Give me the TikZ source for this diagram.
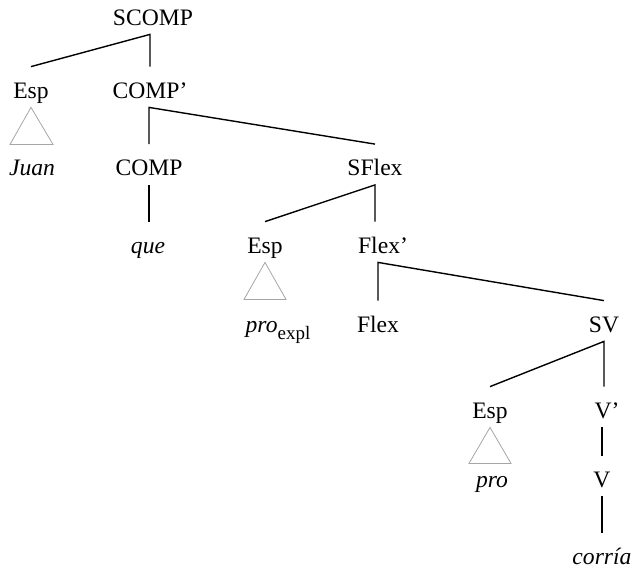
\documentclass[tikz,border=0pt]{standalone}
\usepackage{fontspec}
\setmainfont{Liberation Serif}
\usetikzlibrary{calc}

\begin{document}
\begin{tikzpicture}[x=0.5pt, y=-0.5pt, font=\fontsize{11.8}{14}\selectfont]
	\tikzstyle{cat} = [anchor=base, text height=13pt, text depth=2pt, inner xsep=1pt, inner ysep=2.5pt]
	\tikzstyle{lex} = [cat, font=\fontsize{11.8}{14}\selectfont\itshape]
	\tikzstyle{branch} = [line width=0.7pt]
	\tikzstyle{tri} = [draw=gray!70, line width=0.4pt]
	\useasboundingbox (0,0) rectangle (634,569);
	% categories
	\node (scomp)[cat] at (153,25) {SCOMP};
	\node (espa)[cat] at (31,98) {Esp};
	\node (compbar)[cat] at (150,98) {COMP’};
	\node (juan)[lex] at (32,175.5) {Juan};
	\node (comp)[cat] at (149,175.5) {COMP};
	\node (sflex)[cat] at (375,175.5) {SFlex};
	\node (que)[lex] at (148,253) {que};
	\node (espb)[cat] at (265,253) {Esp};
	\node (flexbar)[cat] at (383,253) {Flex’};
	\node (proexpl)[lex] at (278,332) {pro\raisebox{-3.5pt}{\upshape\fontsize{9.5}{10}\selectfont expl}};
	\node (flex)[cat] at (378,332) {Flex};
	\node (sv)[cat] at (604,332) {SV};
	\node (espc)[cat] at (490,418) {Esp};
	\node (vbar)[cat] at (607,418) {V’};
	\node (pro)[lex] at (492,487) {pro};
	\node (v)[cat] at (602,487) {V};
	\node (corria)[lex] at (602,564) {corría};
	% branches
	\draw[branch] (espa.north) -- (scomp.south -| compbar.north) -- (compbar.north);
	\draw[branch] (comp.north) -- (compbar.south -| comp.north) -- (sflex.north);
	\draw[branch] (comp.south) -- (comp.south |- que.north);
	\draw[branch] (espb.north) -- (sflex.south) -- (sflex.south |- flexbar.north);
	\draw[branch] (flex.north) -- (flexbar.south -| flex.north) -- (sv.north);
	\draw[branch] (espc.north) -- (sv.south) -- (sv.south |- vbar.north);
	\draw[branch] (vbar.south -| v.north) -- (v.north);
	\draw[branch] (v.south) -- (corria.north);
	% triangles
	\draw[tri] (espa.south) -- ++(-21,37) -- ++(43,0) -- cycle;
	\draw[tri] (espb.south) -- ++(-21,37) -- ++(42,0) -- cycle;
	\draw[tri] (espc.south) -- ++(-21,36) -- ++(42,0) -- cycle;
\end{tikzpicture}
\end{document}
